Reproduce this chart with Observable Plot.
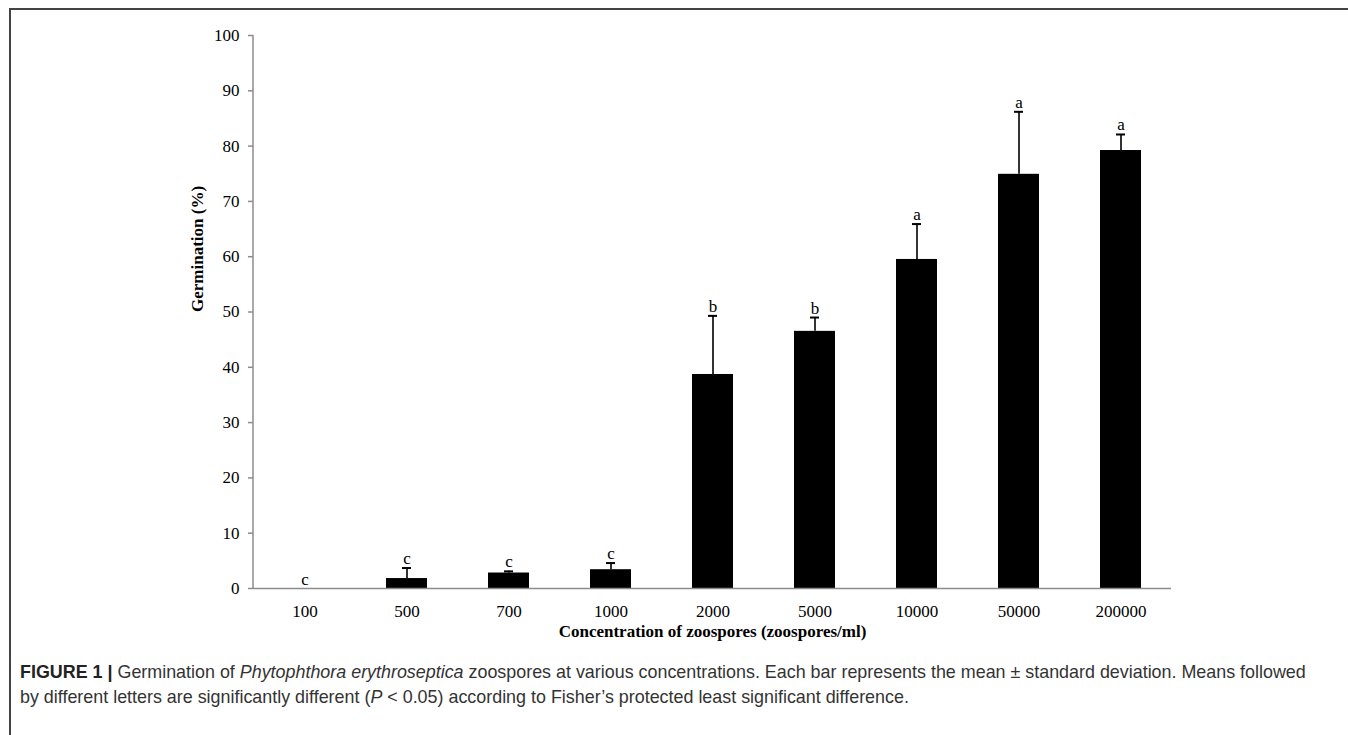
<!DOCTYPE html>
<html>
<head>
<meta charset="utf-8">
<script src="https://cdn.jsdelivr.net/npm/d3@7"></script>
<script src="https://cdn.jsdelivr.net/npm/@observablehq/plot@0.6"></script>
<style>
  html, body { margin: 0; padding: 0; background: #fff; }
  #page { position: relative; width: 1348px; height: 735px; overflow: hidden; background: #fff; }
  #frame { position: absolute; left: 9px; top: 8px; right: -10px; bottom: -10px;
           border-top: 2px solid #444; border-left: 2px solid #444; }
  #chart { position: absolute; left: 0; top: 0; }
  #caption { position: absolute; left: 20px; top: 660px; font-family: "Liberation Sans", Arial, sans-serif;
             font-size: 17.9px; line-height: 25px; color: #333; white-space: nowrap; }
  #caption b { color: #222; }
</style>
</head>
<body>
<div id="page">
  <div id="frame"></div>
  <div id="chart"></div>
  <div id="caption"><b>FIGURE 1 |</b> Germination of <i>Phytophthora erythroseptica</i> zoospores at various concentrations. Each bar represents the mean ± standard deviation. Means followed<br>by different letters are significantly different (<i>P</i> &lt; 0.05) according to Fisher’s protected least significant difference.</div>
</div>
<script>
const categories = ["100", "500", "700", "1000", "2000", "5000", "10000", "50000", "200000"];
const means = [0, 1.8, 2.8, 3.4, 38.7, 46.5, 59.5, 74.9, 79.2];
const sds = [0, 1.9, 0.3, 1.2, 10.6, 2.5, 6.4, 11.3, 2.9];
const letters = ["c", "c", "c", "c", "b", "b", "a", "a", "a"];
const yTicks = [0, 10, 20, 30, 40, 50, 60, 70, 80, 90, 100];

const data = categories.map((c, i) => ({conc: c, mean: means[i], sd: sds[i], top: means[i] + sds[i], letter: letters[i]}));
const withErr = data.filter(d => d.sd > 0);

const serif = "'Liberation Serif', 'Times New Roman', serif";
const axisGrey = "#8c8c8c";

// left axis line drawn from the plot's own y scale and frame dimensions
function yAxisLine(index, scales, values, dimensions) {
  const x = dimensions.marginLeft;
  return d3.create("svg:line")
    .attr("x1", x).attr("x2", x)
    .attr("y1", scales.y(0)).attr("y2", scales.y(100))
    .attr("stroke", axisGrey).attr("stroke-width", 1.5)
    .node();
}

const chart = Plot.plot({
  width: 1348,
  height: 650,
  marginLeft: 253,
  marginRight: 177,
  marginTop: 35,
  marginBottom: 62,
  style: {fontFamily: serif, fontSize: "17px", color: "#000", background: "transparent"},
  x: {domain: categories, paddingInner: 0.6, paddingOuter: 0.3, label: null},
  y: {domain: [0, 100], label: null},
  marks: [
    Plot.barY(data, {x: "conc", y: "mean", fill: "#000"}),
    Plot.ruleX(withErr, {x: "conc", y1: "mean", y2: "top", stroke: "#000", strokeWidth: 1.6}),
    Plot.tickY(withErr, {x: "conc", y: "top", stroke: "#000", strokeWidth: 2, insetLeft: 16, insetRight: 16}),
    Plot.text(data, {x: "conc", y: "top", text: "letter", lineAnchor: "bottom", dy: -4, fontSize: 17, fontFamily: serif, fill: "#000"}),
    Plot.ruleY([0], {stroke: axisGrey, strokeWidth: 1.5}),
    yAxisLine,
    Plot.axisY({ticks: yTicks, tickSize: 5, tickPadding: 9, stroke: axisGrey, strokeWidth: 1.5, fill: "#000", fontSize: 17, label: null}),
    Plot.axisX({tickSize: 0, tickPadding: 16, fill: "#000", fontSize: 17, label: null}),
    Plot.text(["Germination (%)"], {frameAnchor: "left", dx: -56, rotate: -90, fontWeight: "bold", fontSize: 17, fontFamily: serif, fill: "#000"}),
    Plot.text(["Concentration of zoospores (zoospores/ml)"], {frameAnchor: "bottom", dy: 48, fontWeight: "bold", fontSize: 17, fontFamily: serif, fill: "#000"})
  ]
});
document.getElementById("chart").appendChild(chart);
</script>
</body>
</html>
